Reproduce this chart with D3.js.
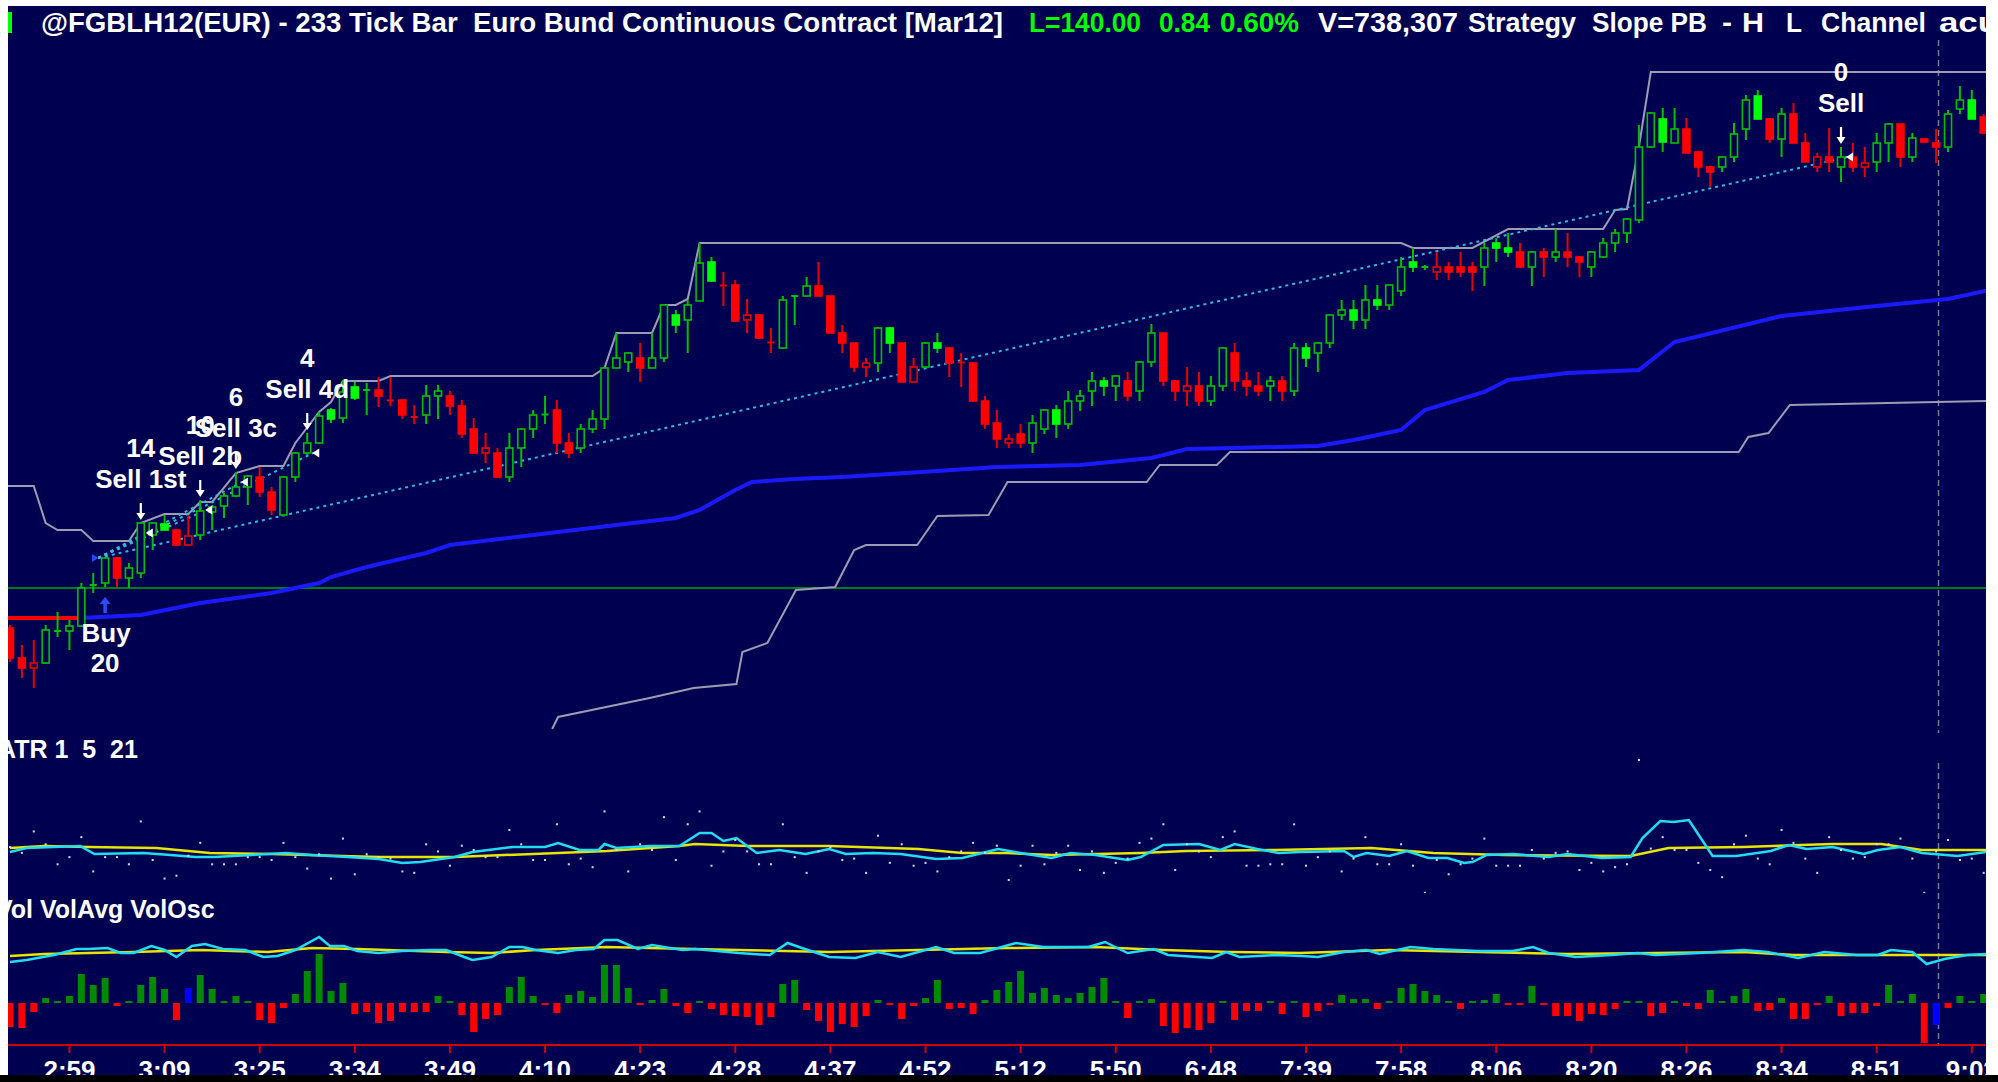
<!DOCTYPE html>
<html>
<head>
<meta charset="utf-8">
<script src="https://cdn.jsdelivr.net/npm/d3@7"></script>
<style>
html, body { margin: 0; padding: 0; background: #000050; overflow: hidden; }
svg { display: block; }
text { font-family: "Liberation Sans", Arial, sans-serif; font-weight: bold; white-space: pre; }
</style>
</head>
<body>
<div id="vis"></div>
<script>
// 233 tick bars, Euro Bund Mar12
var opens = [
 139.492,139.462,139.452,139.457,139.488,139.489,139.494,139.534,139.537,139.562,
 139.542,139.547,139.585,139.596,139.590,139.575,139.585,139.608,139.614,139.624,
 139.633,139.643,139.628,139.605,139.643,139.667,139.677,139.710,139.702,139.733,
 139.730,139.730,139.720,139.720,139.702,139.705,139.724,139.724,139.714,139.691,
 139.667,139.667,139.643,139.672,139.691,139.705,139.710,139.677,139.672,139.691,
 139.701,139.752,139.758,139.762,139.752,139.762,139.805,139.800,139.819,139.858,
 139.835,139.835,139.800,139.805,139.778,139.772,139.824,139.824,139.834,139.824,
 139.787,139.777,139.753,139.757,139.792,139.777,139.738,139.753,139.777,139.772,
 139.758,139.757,139.719,139.697,139.677,139.686,139.677,139.691,139.710,139.696,
 139.719,139.729,139.739,139.734,139.739,139.729,139.758,139.787,139.739,139.729,
 139.734,139.719,139.734,139.767,139.739,139.734,139.734,139.739,139.729,139.772,
 139.767,139.777,139.805,139.810,139.800,139.820,139.815,139.829,139.858,139.853,
 139.848,139.853,139.853,139.853,139.853,139.877,139.872,139.868,139.853,139.868,
 139.863,139.868,139.863,139.853,139.863,139.877,139.887,139.900,139.973,140.001,
 139.977,139.991,139.968,139.953,139.953,139.963,139.991,140.024,140.001,139.981,
 140.006,139.977,139.953,139.963,139.953,139.963,139.953,139.958,139.977,139.996,
 139.963,139.981,139.977,139.973,140.011,140.020,140.003];
var highs = [
 139.495,139.475,139.480,139.495,139.508,139.500,139.537,139.547,139.563,139.563,
 139.557,139.597,139.598,139.605,139.591,139.605,139.620,139.615,139.627,139.648,
 139.645,139.653,139.633,139.644,139.668,139.687,139.708,139.712,139.740,139.738,
 139.737,139.743,139.743,139.721,139.715,139.735,139.735,139.729,139.720,139.702,
 139.687,139.672,139.687,139.692,139.710,139.724,139.720,139.687,139.696,139.710,
 139.753,139.787,139.768,139.777,139.787,139.816,139.810,139.820,139.877,139.863,
 139.848,139.840,139.821,139.806,139.792,139.824,139.825,139.843,139.858,139.824,
 139.795,139.777,139.762,139.793,139.793,139.777,139.762,139.778,139.787,139.773,
 139.767,139.758,139.724,139.710,139.686,139.696,139.705,139.711,139.715,139.729,
 139.730,139.748,139.743,139.745,139.748,139.759,139.796,139.787,139.740,139.753,
 139.748,139.744,139.773,139.777,139.748,139.748,139.744,139.744,139.777,139.777,
 139.778,139.806,139.820,139.820,139.835,139.835,139.835,139.863,139.872,139.855,
 139.868,139.858,139.868,139.858,139.877,139.882,139.887,139.877,139.869,139.872,
 139.891,139.887,139.864,139.869,139.882,139.891,139.902,139.995,140.008,140.012,
 140.012,140.002,139.969,139.954,139.964,139.997,140.025,140.030,140.002,140.012,
 140.017,139.987,139.967,139.992,139.973,139.977,139.973,139.987,139.997,139.996,
 139.987,139.981,139.991,140.010,140.034,140.030,140.006];
var lows = [
 139.458,139.442,139.432,139.456,139.483,139.470,139.493,139.527,139.533,139.533,
 139.532,139.542,139.570,139.590,139.574,139.574,139.580,139.590,139.602,139.623,
 139.615,139.623,139.605,139.604,139.638,139.665,139.676,139.697,139.697,139.720,
 139.705,139.713,139.714,139.701,139.696,139.696,139.701,139.705,139.682,139.667,
 139.657,139.642,139.638,139.653,139.682,139.696,139.667,139.662,139.667,139.687,
 139.691,139.752,139.748,139.738,139.752,139.758,139.787,139.767,139.819,139.839,
 139.814,139.798,139.787,139.781,139.767,139.771,139.795,139.824,139.824,139.787,
 139.767,139.748,139.743,139.748,139.767,139.738,139.738,139.752,139.767,139.743,
 139.733,139.718,139.691,139.672,139.672,139.672,139.667,139.686,139.682,139.691,
 139.709,139.714,139.724,139.719,139.719,139.719,139.753,139.734,139.719,139.714,
 139.714,139.714,139.729,139.729,139.724,139.724,139.719,139.719,139.724,139.753,
 139.748,139.772,139.800,139.791,139.791,139.810,139.810,139.824,139.848,139.850,
 139.840,139.840,139.843,139.829,139.834,139.858,139.863,139.853,139.834,139.843,
 139.858,139.853,139.843,139.843,139.862,139.868,139.877,139.897,139.972,139.968,
 139.977,139.967,139.943,139.933,139.948,139.958,139.980,140.001,139.977,139.963,
 139.977,139.958,139.948,139.948,139.938,139.948,139.943,139.948,139.958,139.953,
 139.958,139.977,139.957,139.968,140.006,140.001,139.987];
var closes = [
 139.462,139.452,139.457,139.490,139.490,139.494,139.532,139.536,139.562,139.542,
 139.552,139.597,139.597,139.590,139.575,139.584,139.609,139.613,139.624,139.633,
 139.644,139.628,139.610,139.643,139.667,139.677,139.704,139.701,139.728,139.722,
 139.730,139.724,139.719,139.705,139.704,139.724,139.729,139.714,139.686,139.667,
 139.672,139.643,139.672,139.691,139.705,139.706,139.677,139.667,139.691,139.701,
 139.752,139.762,139.767,139.752,139.762,139.815,139.795,139.815,139.857,139.839,
 139.834,139.799,139.805,139.782,139.777,139.820,139.824,139.834,139.824,139.787,
 139.777,139.753,139.757,139.792,139.777,139.738,139.753,139.777,139.772,139.757,
 139.757,139.719,139.696,139.681,139.681,139.677,139.697,139.710,139.696,139.719,
 139.724,139.739,139.734,139.744,139.724,139.758,139.787,139.739,139.729,139.734,
 139.719,139.734,139.772,139.739,139.734,139.729,139.739,139.729,139.772,139.762,
 139.777,139.805,139.810,139.800,139.820,139.815,139.835,139.853,139.853,139.853,
 139.853,139.848,139.848,139.848,139.872,139.872,139.868,139.853,139.868,139.863,
 139.868,139.863,139.858,139.868,139.877,139.887,139.901,139.973,140.007,139.978,
 139.991,139.967,139.953,139.948,139.963,139.986,140.020,140.001,139.981,140.006,
 139.977,139.958,139.963,139.958,139.963,139.953,139.957,139.977,139.996,139.963,
 139.982,139.978,139.973,140.006,140.020,140.001,139.987];
// tick direction of each bar (1 up, -1 down)
var barDir = [
 -1,-1,-1,1,1,1,1,1,1,-1, 1,1,1,1,-1,-1,1,1,1,1, 1,-1,-1,1,1,1,1,1,1,1,
 1,-1,-1,-1,-1,1,1,-1,-1,-1, -1,-1,1,1,1,1,-1,-1,1,1, 1,1,1,-1,1,1,1,1,1,1,
 -1,-1,-1,-1,-1,1,1,1,-1,-1, -1,-1,-1,1,1,-1,-1,1,1,-1, -1,-1,-1,-1,-1,-1,1,1,1,1,
 1,1,1,1,-1,1,1,-1,-1,-1, -1,1,1,-1,-1,-1,1,-1,1,1, 1,1,1,1,1,1,1,1,1,1,
 -1,-1,-1,-1,1,1,1,-1,1,-1, 1,-1,-1,1,1,1,1,1,1,1, 1,-1,-1,-1,1,1,1,1,-1,1,
 -1,-1,-1,-1,1,-1,-1,1,1,-1, 1,-1,-1,1,1,1,-1];

var timeLabels = ['2:59','3:09','3:25','3:34','3:49','4:10','4:23','4:28','4:37','4:52','5:12',
                  '5:50','6:48','7:39','7:58','8:06','8:20','8:26','8:34','8:51','9:02'];
var timeBars = [5,13,21,29,37,45,53,61,69,77,85,93,101,109,117,125,133,141,149,157,165];

// H L channel
var chanHigh = [[-0.2,139.634],[2,139.634],[3,139.597],[4,139.590],[6,139.590],[7,139.579],[10,139.579],
 [11,139.597],[13,139.606],[15,139.606],[16,139.618],[17,139.618],[19,139.647],[21,139.654],[23,139.654],
 [24,139.677],[26,139.708],[27,139.718],[28,139.739],[31,139.739],[32,139.744],[49,139.744],[50,139.752],
 [51,139.787],[54,139.787],[55,139.815],[56,139.815],[57,139.821],[58,139.877],[117,139.877],[118,139.872],
 [123,139.872],[126,139.891],[134,139.891],[135,139.910],[136,139.911],[137,139.973],[138,140.048],[166.5,140.048]];
var chanLow = [[45.6,139.391],[46.1,139.403],[53.8,139.422],[57.5,139.432],[61.1,139.436],[61.6,139.468],
 [63.7,139.477],[66.1,139.530],[69.4,139.533],[71,139.570],[72,139.575],[76.3,139.575],[78,139.604],
 [82.3,139.605],[83.9,139.638],[95.6,139.638],[96.7,139.655],[101.5,139.655],[102.6,139.668],[145.4,139.668],
 [146.2,139.683],[147.9,139.687],[149.7,139.715],[166.5,139.719]];
// moving average
var maLine = [[-0.2,139.502],[6,139.502],[11,139.505],[16,139.517],[22,139.527],[26,139.537],[27,139.543],
 [30,139.553],[35,139.567],[37,139.575],[44,139.585],[51,139.595],[56,139.602],[58,139.610],[61,139.630],
 [62.4,139.638],[66,139.641],[70,139.643],[78,139.649],[83,139.653],[90,139.655],[96,139.662],[99,139.671],
 [103,139.672],[110,139.674],[113,139.680],[115,139.685],[117,139.690],[119,139.710],[124,139.728],
 [126,139.740],[131,139.747],[137,139.750],[140,139.778],[149,139.804],[157,139.814],[163,139.821],[166.5,139.830]];
var maRedUntil = 6;
var stopLevel = 139.532;
var cursorBar = 162.2;

// trades
var buyBar = 8, buyPrice = 139.562, buyLabel = 'Buy', buyQty = '20';
var sellBars = [11, 16, 19, 25, 154];
var sellPrices = [139.587, 139.610, 139.638, 139.667, 139.963];
var sellLabels = ['Sell 1st', 'Sell 2b', 'Sell 3c', 'Sell 4d', 'Sell'];
var sellQty = ['14', '10', '6', '4', '0'];

// ATR 1 5 21
var atrFast = [[0,0.0336],[1.4,0.0364],[5.9,0.0378],[7.1,0.0322],[11.2,0.0329],[13.5,0.0315],[15.6,0.0301],
 [17.2,0.0301],[23.2,0.0329],[25.4,0.0315],[28.4,0.0301],[31,0.0287],[33,0.0259],[34.5,0.0266],[37.4,0.0301],
 [38.9,0.0336],[42.3,0.0371],[45,0.0371],[46.1,0.0399],[47.9,0.035],[49.5,0.035],[50,0.0392],[51,0.0364],
 [53.8,0.0378],[56.3,0.0378],[58,0.0469],[59,0.0469],[60,0.0413],[61.1,0.0434],[62.8,0.0329],[64.7,0.035],
 [66.9,0.0322],[68.9,0.0357],[70.3,0.0322],[72.6,0.0329],[74.9,0.0322],[77.9,0.0287],[80.1,0.0294],
 [83.1,0.0357],[85,0.0329],[87.6,0.0294],[89.2,0.0329],[91.3,0.0315],[94,0.028],[95.1,0.0301],[97,0.0385],
 [100,0.0392],[101.8,0.035],[103,0.0392],[104.9,0.0357],[106.7,0.0329],[108.5,0.0336],[112.2,0.0343],
 [113,0.0301],[114.1,0.0329],[116,0.0308],[117.5,0.0343],[119.3,0.0294],[120.9,0.0294],[122.3,0.0259],
 [123,0.0266],[124.2,0.0315],[126.4,0.0322],[129.4,0.0301],[131,0.0322],[133.9,0.0294],[136.3,0.0301],
 [137.3,0.0434],[138.8,0.0553],[139.9,0.0546],[141.2,0.056],[143.2,0.0308],[145.2,0.0308],[148.1,0.0343],
 [149.6,0.0385],[151.1,0.0357],[153.3,0.0371],[155.9,0.0322],[157.1,0.035],[159,0.0371],[160.8,0.0329],
 [163.8,0.0308],[166.2,0.0336]];
var atrSlow = [[0,0.0364],[2.9,0.0378],[6.6,0.0371],[12.3,0.0364],[16.8,0.0329],[22,0.0322],[31,0.0301],
 [37.4,0.0301],[46.1,0.0329],[50.2,0.0343],[56.3,0.0378],[57.6,0.0392],[62.1,0.0378],[68.9,0.0378],
 [76.4,0.0357],[80.1,0.0329],[83.9,0.0329],[87.6,0.0315],[95.1,0.0329],[98.9,0.0343],[106.4,0.035],
 [114.5,0.0364],[119.7,0.0329],[125.7,0.0315],[136.3,0.0308],[139.5,0.0364],[145.8,0.0371],[153.3,0.0392],
 [157.4,0.0392],[160.8,0.035],[166.2,0.035]];

// Vol VolAvg VolOsc
var volFast = [[0,820],[1.4,860],[3.7,960],[5.6,1080],[6.6,1080],[8.2,1100],[9.3,1000],[10.4,1000],[11.9,1140],
 [13,1060],[14,920],[15.3,1140],[16.4,1180],[17.9,1080],[19.8,1060],[21.3,920],[22.5,940],[24,1060],[26,1320],
 [26.9,1140],[28.1,1140],[29.2,1040],[31,1000],[33,1040],[35.2,1060],[36.7,1060],[38.2,920],[38.9,860],
 [40.5,920],[42,1120],[43.1,1120],[44.2,1060],[46.1,1000],[47.6,1060],[49.1,1080],[50,1260],[51.1,1260],
 [52.8,1080],[54,1160],[55.5,1100],[56.6,1060],[57.6,1080],[61.3,1000],[63.9,960],[65.4,1200],[66.6,1100],
 [68.9,920],[71.1,900],[73,1020],[74.9,920],[77.9,1120],[79.4,1000],[81.6,1000],[84.6,1200],[86.9,1120],
 [90.7,1120],[92.1,1220],[94,1000],[96.2,1080],[97.4,960],[101.1,900],[102.3,1020],[103.4,920],[106.4,960],
 [108.7,940],[110,920],[112.2,1020],[114.1,1060],[115.2,980],[117.8,1120],[119.7,1080],[123.5,1040],
 [126.4,1040],[128.1,1120],[129.4,1000],[131.7,920],[134.7,960],[136.9,1000],[138.4,960],[142.1,1000],
 [145.8,1060],[147.8,1020],[150.4,900],[152.6,1020],[155.3,960],[157.1,960],[158.2,1060],[160,1020],
 [161.2,780],[162.7,880],[164.6,960],[166.2,980]];
var volSlow = [[0,940],[2.9,980],[6.6,1000],[10.4,1020],[16.1,1060],[21.7,1020],[25.4,1100],[29.2,1080],
 [36.7,1020],[40.5,1000],[44.2,1060],[50.2,1120],[53.8,1100],[61.3,1060],[68.9,1020],[76.4,1060],[83.9,1100],
 [91.3,1120],[97,1060],[102.6,1020],[108.5,1000],[116,1060],[123.5,1020],[131,980],[138.4,1000],[145.8,1020],
 [150,960],[157.1,960],[166.2,960]];
var volOsc = [
 -480,-500,-180,100,20,140,580,360,500,-60, 20,360,520,280,-340,300,560,280,40,140,
 20,-340,-400,-100,180,640,980,240,400,-220, -180,-400,-360,-180,-180,-180,140,20,-240,-580,
 -320,-240,320,520,140,-20,-200,160,240,120, 760,760,300,-20,60,280,-60,-200,40,-120,
 -240,-260,-280,-440,-280,380,460,-140,-360,-580, -420,-480,-260,60,-20,-320,-60,100,460,-120,
 -100,-220,60,260,420,640,200,300,160,100, 200,320,500,20,-300,20,80,-460,-600,-500,
 -540,-400,20,-340,-160,-160,20,-220,20,-280, -160,-20,160,80,80,-120,20,300,380,240,
 160,20,-120,20,60,180,-40,-40,340,-20, -260,-260,-360,-220,-240,-120,20,20,-260,-200,
 40,-60,-120,260,20,140,280,-160,-140,100, -320,-320,-40,140,-260,-200,-200,-60,360,20,
 180,-800,-440,-100,140,20,180];
var volOscFlat = [15, 162];

var W = 1998, H = 1082;
var bg = '#000050';
var plotL = 8, plotR = 1986;

var svg = d3.select('#vis').append('svg').attr('width', W).attr('height', H);
svg.append('rect').attr('width', W).attr('height', H).attr('fill', bg);

var defs = svg.append('defs');
function clip(id, y0, y1) {
    defs.append('clipPath').attr('id', id).append('rect')
        .attr('x', plotL).attr('y', y0).attr('width', plotR - plotL).attr('height', y1 - y0);
    return 'url(#' + id + ')';
}

var x = d3.scaleLinear().domain([0, 166]).range([10, 1983.7]);
var y = d3.scaleLinear().domain([139.387, 140.075]).range([733, 45]);
var yAtr = d3.scaleLinear().domain([0, 0.14]).range([900, 700]);
var yVol = d3.scaleLinear().domain([0, 2000]).range([1003, 903]);

// title, each piece fitted to its width in the screenshot
var title = svg.append('g').attr('font-size', 27);
var titleParts = [
    ['@FGBLH12(EUR) - 233 Tick Bar  Euro Bund Continuous Contract [Mar12]', 41, '#ffffff', 962],
    ['L=140.00', 1029, '#00ff00', 112], ['0.84', 1159, '#00ff00', 51], ['0.60%', 1220, '#00ff00', 79],
    ['V=738,307', 1318, '#ffffff', 140], ['Strategy', 1468, '#ffffff', 108], ['Slope PB', 1592, '#ffffff', 115],
    ['-', 1722, '#ffffff', 10], ['H', 1742, '#ffffff', 22], ['L', 1786, '#ffffff', 16],
    ['Channel', 1821, '#ffffff', 105], ['acu', 1939, '#ffffff', 60]
];
titleParts.forEach(function(p) {
    title.append('text').attr('x', p[1]).attr('y', 32).attr('fill', p[2])
        .attr('textLength', p[3]).attr('lengthAdjust', 'spacingAndGlyphs').text(p[0]);
});
svg.append('rect').attr('x', 6).attr('y', 12).attr('width', 6).attr('height', 21).attr('fill', '#00ff00');

// ---------- main panel ----------
var main = svg.append('g').attr('clip-path', clip('cMain', 40, 733));

main.append('line').attr('x1', plotL).attr('x2', plotR)
    .attr('y1', y(stopLevel)).attr('y2', y(stopLevel))
    .attr('stroke', '#00a800').attr('stroke-width', 1.6);

main.append('line').attr('x1', x(cursorBar)).attr('x2', x(cursorBar))
    .attr('y1', 40).attr('y2', 733)
    .attr('stroke', '#7a7a8a').attr('stroke-width', 1.5).attr('stroke-dasharray', '6,4');

var pline = d3.line().x(function(d){ return x(d[0]); }).y(function(d){ return y(d[1]); });

[chanHigh, chanLow].forEach(function(c) {
    main.append('path').attr('d', pline(c)).attr('fill', 'none')
        .attr('stroke', '#9c9cb4').attr('stroke-width', 2);
});

main.append('path').attr('d', pline(maLine.filter(function(d){ return d[0] >= maRedUntil; })))
    .attr('fill', 'none').attr('stroke', '#1a1aff').attr('stroke-width', 4);
main.append('path').attr('d', pline(maLine.filter(function(d){ return d[0] <= maRedUntil; })))
    .attr('fill', 'none').attr('stroke', '#ff0000').attr('stroke-width', 4);

// entry -> exit lines
var buyPt = [x(buyBar) - 7, y(buyPrice)];
sellBars.forEach(function(b, k) {
    main.append('line').attr('x1', buyPt[0]).attr('y1', buyPt[1])
        .attr('x2', x(b) + 6).attr('y2', y(sellPrices[k]))
        .attr('stroke', '#34b8dc').attr('stroke-width', 2).attr('stroke-dasharray', '3,4');
});

// candles
var bars = opens.map(function(o, i) {
    return {i: i, o: o, h: highs[i], l: lows[i], c: closes[i], d: barDir[i]};
});
function lineCol(d) { return d.d > 0 ? '#00c000' : '#e80000'; }
function fillCol(d) { return d.d > 0 ? '#00ff00' : '#ff0000'; }
function isDoji(d) { return Math.abs(d.o - d.c) < 0.0025; }

main.selectAll('.wick').data(bars).enter().append('line').attr('class', 'wick')
    .attr('x1', function(d){ return x(d.i); }).attr('x2', function(d){ return x(d.i); })
    .attr('y1', function(d){ return y(d.h); }).attr('y2', function(d){ return y(d.l); })
    .attr('stroke', lineCol).attr('stroke-width', 2);

main.selectAll('.body').data(bars).enter().append('rect').attr('class', 'body')
    .attr('x', function(d){ return x(d.i) - 3.5; }).attr('width', 7)
    .attr('y', function(d){
        return isDoji(d) ? (y(d.o) + y(d.c)) / 2 - 1 : y(Math.max(d.o, d.c));
    })
    .attr('height', function(d){
        return isDoji(d) ? 2 : Math.abs(y(d.o) - y(d.c));
    })
    .attr('fill', function(d){
        if (isDoji(d)) return lineCol(d);
        return d.c > d.o ? bg : fillCol(d);
    })
    .attr('stroke', function(d){
        if (isDoji(d)) return 'none';
        return d.c > d.o ? lineCol(d) : fillCol(d);
    })
    .attr('stroke-width', 1.6);

// trade markers
main.append('path')
    .attr('d', 'M' + (buyPt[0] - 6) + ',' + (buyPt[1] - 4) + 'L' + (buyPt[0] - 6) + ',' + (buyPt[1] + 4) +
               'L' + buyPt[0] + ',' + buyPt[1] + 'Z')
    .attr('fill', '#2a4cff');
sellBars.forEach(function(b, k) {
    var px = x(b) + 5, py = y(sellPrices[k]);
    main.append('path')
        .attr('d', 'M' + px + ',' + py + 'L' + (px + 7) + ',' + (py - 4.5) + 'L' + (px + 7) + ',' + (py + 4.5) + 'Z')
        .attr('fill', '#ffffff');
});

// annotations
var ann = svg.append('g').attr('font-size', 26).attr('fill', '#ffffff').attr('text-anchor', 'middle');
sellBars.forEach(function(b, k) {
    var cx = x(b), tip = y(highs[b]) - 3;
    ann.append('line').attr('x1', cx).attr('x2', cx).attr('y1', tip - 17).attr('y2', tip - 6)
        .attr('stroke', '#ffffff').attr('stroke-width', 2.2);
    ann.append('path').attr('d', 'M' + (cx - 4.5) + ',' + (tip - 7) + 'L' + (cx + 4.5) + ',' + (tip - 7) + 'L' + cx + ',' + tip + 'Z')
        .attr('fill', '#ffffff');
    ann.append('text').attr('x', cx).attr('y', tip - 63).text(sellQty[k]);
    ann.append('text').attr('x', cx).attr('y', tip - 32).text(sellLabels[k]);
});
(function() {
    var cx = x(buyBar), top = y(lows[buyBar]) + 10;
    ann.append('line').attr('x1', cx).attr('x2', cx).attr('y1', top + 6).attr('y2', top + 16)
        .attr('stroke', '#2a4cff').attr('stroke-width', 3.5);
    ann.append('path').attr('d', 'M' + (cx - 5.5) + ',' + (top + 7) + 'L' + (cx + 5.5) + ',' + (top + 7) + 'L' + cx + ',' + top + 'Z')
        .attr('fill', '#2a4cff');
    ann.append('text').attr('x', cx + 1).attr('y', top + 45).text(buyLabel);
    ann.append('text').attr('x', cx).attr('y', top + 75).text(buyQty);
})();

// ---------- ATR panel ----------
var atr = svg.append('g').attr('clip-path', clip('cAtr', 735, 893));
atr.append('line').attr('x1', x(cursorBar)).attr('x2', x(cursorBar)).attr('y1', 763).attr('y2', 893)
    .attr('stroke', '#7a7a8a').attr('stroke-width', 1.5).attr('stroke-dasharray', '6,4');
var aline = d3.line().x(function(d){ return x(d[0]); }).y(function(d){ return yAtr(d[1]); });
atr.append('path').attr('d', aline(atrSlow)).attr('fill', 'none').attr('stroke', '#e6e600').attr('stroke-width', 2.5);
atr.append('path').attr('d', aline(atrFast)).attr('fill', 'none').attr('stroke', '#22dcf0').attr('stroke-width', 2.5);
// ATR 1 = true range of each bar
atr.selectAll('.tr').data(bars).enter().append('rect').attr('class', 'tr')
    .attr('x', function(d){ return x(d.i) - 1; }).attr('width', 2).attr('height', 2)
    .attr('y', function(d){
        var pc = d.i > 0 ? closes[d.i - 1] : d.c;
        var tr = Math.max(d.h, pc) - Math.min(d.l, pc);
        return yAtr(tr) - 1;
    })
    .attr('fill', '#d8d8e8');
svg.append('text').attr('x', -2).attr('y', 758).attr('font-size', 25).attr('fill', '#ffffff').text('ATR 1  5  21');

// ---------- Volume panel ----------
var vol = svg.append('g').attr('clip-path', clip('cVol', 893, 1045));
vol.append('line').attr('x1', x(cursorBar)).attr('x2', x(cursorBar)).attr('y1', 893).attr('y2', 1045)
    .attr('stroke', '#7a7a8a').attr('stroke-width', 1.5).attr('stroke-dasharray', '6,4');
var vline = d3.line().x(function(d){ return x(d[0]); }).y(function(d){ return yVol(d[1]); });
vol.append('path').attr('d', vline(volSlow)).attr('fill', 'none').attr('stroke', '#e6e600').attr('stroke-width', 2.5);
vol.append('path').attr('d', vline(volFast)).attr('fill', 'none').attr('stroke', '#22dcf0').attr('stroke-width', 2.5);
vol.selectAll('.osc').data(volOsc).enter().append('rect').attr('class', 'osc')
    .attr('x', function(d, i){ return x(i) - 3.5; }).attr('width', 7)
    .attr('y', function(d){ return d >= 0 ? Math.min(yVol(d), yVol(0) - 2) : yVol(0); })
    .attr('height', function(d){ return Math.max(2, Math.abs(yVol(d) - yVol(0))); })
    .attr('fill', function(d, i){
        if (volOscFlat.indexOf(i) >= 0) return '#0000ff';
        return d >= 0 ? '#008a00' : '#ff0000';
    });
svg.append('text').attr('x', -4).attr('y', 918).attr('font-size', 25).attr('fill', '#ffffff').text('Vol VolAvg VolOsc');

// ---------- time axis ----------
var axis = svg.append('g').attr('clip-path', clip('cAxis', 1040, 1082));
axis.append('line').attr('x1', plotL).attr('x2', plotR).attr('y1', 1045).attr('y2', 1045)
    .attr('stroke', '#d00000').attr('stroke-width', 2);
axis.selectAll('.tk').data(timeBars).enter().append('line').attr('class', 'tk')
    .attr('x1', function(d){ return x(d); }).attr('x2', function(d){ return x(d); })
    .attr('y1', 1045).attr('y2', 1053).attr('stroke', '#d00000').attr('stroke-width', 2);
axis.selectAll('.tl').data(timeBars).enter().append('text').attr('class', 'tl')
    .attr('x', function(d){ return x(d); }).attr('y', 1079)
    .attr('text-anchor', 'middle').attr('font-size', 26).attr('fill', '#ffffff')
    .text(function(d, i){ return timeLabels[i]; });

// frame
svg.append('rect').attr('x', 0).attr('y', 0).attr('width', plotL).attr('height', 1075).attr('fill', '#ffffff');
svg.append('rect').attr('x', plotR).attr('y', 0).attr('width', W - plotR).attr('height', 1075).attr('fill', '#ffffff');
svg.append('rect').attr('x', 0).attr('y', 0).attr('width', W).attr('height', 6).attr('fill', '#ffffff');
svg.append('rect').attr('x', 0).attr('y', 1075).attr('width', W).attr('height', H - 1075).attr('fill', '#000000');
</script>
</body>
</html>
